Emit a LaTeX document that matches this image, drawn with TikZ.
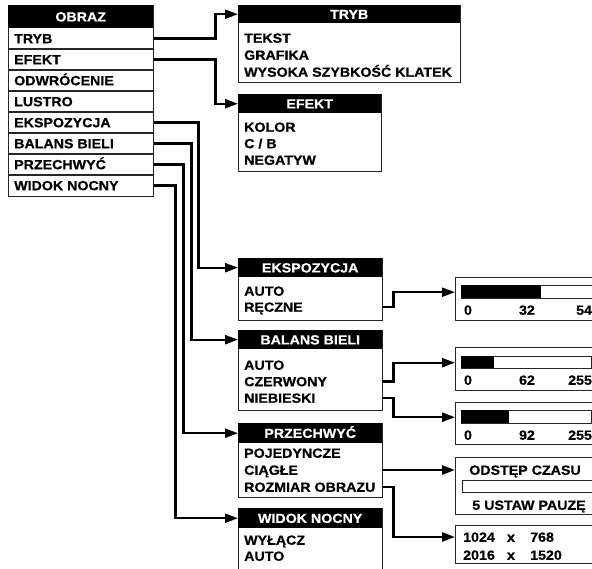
\documentclass[tikz,border=0pt]{standalone}
\usepackage{fontspec}
\setmainfont{Liberation Sans}[FakeStretch=1.07, BoldFeatures={FakeBold=0.6}]
\usetikzlibrary{arrows.meta}

\begin{document}
\begin{tikzpicture}[x=1pt,y=-1pt,
  font=\fontsize{13.3pt}{15pt}\selectfont\bfseries,
  box/.style={draw=black!85, line width=1.4pt, fill=white, inner sep=0pt, anchor=north west},
  head/.style={fill=black, text=white, inner sep=0pt, anchor=north west, text height=9.5pt, text depth=0pt},
  item/.style={anchor=west, inner sep=0pt, text height=9.5pt, text depth=0pt},
  lbl/.style={inner sep=0pt, text height=9.5pt, text depth=0pt},
  conn/.style={line width=2.3pt, -{Triangle[length=13pt,width=9pt]}}]

\useasboundingbox (0,0) rectangle (592,569);
\clip (0,0) rectangle (592,569);

% main menu
\node[box, minimum width=145pt, minimum height=191pt] (obraz) at (8,5) {};
\node[head, minimum width=145pt, minimum height=23pt] (hobraz) at (8,5) {OBRAZ};
\foreach \y in {49,70,91,112,133,154,175}
  \draw[black!85, line width=1.4pt] (8,\y) -- (153,\y);
\node[item] (otryb) at (14,38.5) {TRYB};
\node[item] (oefekt) at (14,59.5) {EFEKT};
\node[item] (oodwr) at (14,80.5) {ODWRÓCENIE};
\node[item] (olustro) at (14,101.5) {LUSTRO};
\node[item] (oeksp) at (14,122.5) {EKSPOZYCJA};
\node[item] (obalans) at (14,143.5) {BALANS BIELI};
\node[item] (oprzech) at (14,164.5) {PRZECHWYĆ};
\node[item] (owidok) at (14,185.5) {WIDOK NOCNY};

% sub menus
\node[box, minimum width=222pt, minimum height=77pt] (btryb) at (238,5) {};
\node[head, minimum width=222pt, minimum height=18pt] (htryb) at (238,5) {TRYB};
\node[item] (itekst) at (244,38) {TEKST};
\node[item] (igraf) at (244,55) {GRAFIKA};
\node[item] (iwys) at (244,72) {WYSOKA SZYBKOŚĆ KLATEK};

\node[box, minimum width=143pt, minimum height=77pt] (befekt) at (238,94) {};
\node[head, minimum width=143pt, minimum height=19pt] (hefekt) at (238,94) {EFEKT};
\node[item] (ikolor) at (244,127) {KOLOR};
\node[item] (icb) at (244,143.5) {C / B};
\node[item] (ineg) at (244,160) {NEGATYW};

\node[box, minimum width=144pt, minimum height=62pt] (beksp) at (238,258) {};
\node[head, minimum width=144pt, minimum height=19pt] (heksp) at (238,258) {EKSPOZYCJA};
\node[item] (iauto) at (244,291) {AUTO};
\node[item] (ireczne) at (244,307) {RĘCZNE};

\node[box, minimum width=144pt, minimum height=80pt] (bbalans) at (238,330) {};
\node[head, minimum width=144pt, minimum height=19pt] (hbalans) at (238,330) {BALANS BIELI};
\node[item] (iautob) at (244,365) {AUTO};
\node[item] (iczerw) at (244,381.5) {CZERWONY};
\node[item] (iniebie) at (244,398) {NIEBIESKI};

\node[box, minimum width=144pt, minimum height=74pt] (bprzech) at (238,423) {};
\node[head, minimum width=144pt, minimum height=20pt] (hprzech) at (238,423) {PRZECHWYĆ};
\node[item] (ipoj) at (244,453) {POJEDYNCZE};
\node[item] (iciagle) at (244,470) {CIĄGŁE};
\node[item] (irozmiar) at (244,487) {ROZMIAR OBRAZU};

\node[box, minimum width=144pt, minimum height=80pt] (bwidok) at (238,508) {};
\node[head, minimum width=144pt, minimum height=20pt] (hwidok) at (238,508) {WIDOK NOCNY};
\node[item] (iwyl) at (244,540) {WYŁĄCZ};
\node[item] (iautow) at (244,556) {AUTO};

% sliders
\node[box, minimum width=150pt, minimum height=43pt] (bexp) at (455,277) {};
\node[box, minimum width=150pt, minimum height=13pt] (sexp) at (461,285) {};
\fill (sexp.north west) rectangle ++(80,13);
\node[lbl] (lexpa) at (468,310) {0};
\node[lbl] (lexpb) at (527,310) {32};
\node[lbl, anchor=west] (lexpc) at (576,310) {54};

\node[box, minimum width=150pt, minimum height=43pt] (bred) at (455,347) {};
\node[box, minimum width=130pt, minimum height=12pt] (sred) at (461,356) {};
\fill (sred.north west) rectangle ++(33,12);
\node[lbl] (lreda) at (468,380) {0};
\node[lbl] (lredb) at (527,380) {62};
\node[lbl, anchor=west] (lredc) at (568,380) {255};

\node[box, minimum width=150pt, minimum height=42pt] (bblue) at (455,402) {};
\node[box, minimum width=130pt, minimum height=13pt] (sblue) at (461,410) {};
\fill (sblue.north west) rectangle ++(48,13);
\node[lbl] (lbluea) at (468,435) {0};
\node[lbl] (lblueb) at (527,435) {92};
\node[lbl, anchor=west] (lbluec) at (568,435) {255};

\node[box, minimum width=150pt, minimum height=57pt] (bint) at (455,457) {};
\node[lbl] (lint) at (525,470) {ODSTĘP CZASU};
\node[box, minimum width=140pt, minimum height=12pt] (sint) at (462,480) {};
\node[lbl] (lpauza) at (529,505) {5 USTAW PAUZĘ};

\node[box, minimum width=150pt, minimum height=38pt] (bres) at (455,525) {};
\node[item] (resa) at (463,537) {1024};
\node[lbl] (resb) at (511,537) {x};
\node[item] (resc) at (530,537) {768};
\node[item] (resd) at (463,555) {2016};
\node[lbl] (rese) at (511,555) {x};
\node[item] (resf) at (530,555) {1520};

% connectors
\draw[conn] (otryb -| obraz.east) -- ++(61,0) |- (htryb.west);
\draw[conn] (oefekt -| obraz.east) -- ++(61,0) |- (hefekt.west);
\draw[conn] (oeksp -| obraz.east) -- ++(44,0) |- (heksp.west);
\draw[conn] (obalans -| obraz.east) -- ++(37,0) |- (hbalans.west);
\draw[conn] (oprzech -| obraz.east) -- ++(29,0) |- (hprzech.west);
\draw[conn] (owidok -| obraz.east) -- ++(21,0) |- (hwidok.west);

\draw[conn] (ireczne -| heksp.east) -- ++(11,0) |- (sexp -| bexp.west);
\draw[conn] (iczerw -| hbalans.east) -- ++(11,0) |- (sred -| bred.west);
\draw[conn] (iniebie -| hbalans.east) -- ++(11,0) |- (sblue -| bblue.west);
\draw[conn] (iciagle -| hprzech.east) -- (iciagle -| bint.west);
\draw[conn] (irozmiar -| hprzech.east) -- ++(11,0) |- (resa -| bres.west);
\end{tikzpicture}
\end{document}
